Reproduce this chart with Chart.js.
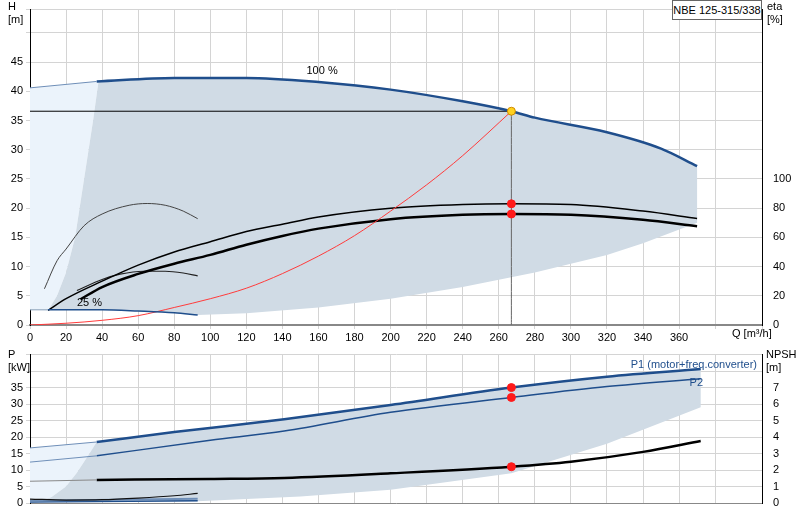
<!DOCTYPE html>
<html>
<head>
<meta charset="utf-8">
<script src="https://cdn.jsdelivr.net/npm/chart.js@4"></script>
<style>
  body { margin: 0; background: #fff; font-family: Arial, "Liberation Sans", sans-serif; }
  .box { position: absolute; }
  .lbl { position: absolute; font-size: 11px; color: #000; line-height: 13px; white-space: nowrap; }
</style>
</head>
<body>
<div class="box" style="left:0;top:0;width:800px;height:345px"><canvas id="top"></canvas></div>
<div class="box" style="left:0;top:345px;width:800px;height:175px"><canvas id="bottom"></canvas></div>
<div class="lbl" style="left:8px;top:0px">H<br>[m]</div>
<div class="lbl" style="left:767px;top:0px">eta<br>[%]</div>
<div class="lbl" style="left:672px;top:0px;width:88px;height:18px;border:1px solid #666;background:#fff;text-align:center;line-height:18px">NBE 125-315/338</div>
<div class="lbl" style="left:8px;top:348px">P<br>[kW]</div>
<div class="lbl" style="left:766px;top:348px">NPSH<br>[m]</div>
<script>
// Q [m3/h] grid
const qMax = 406;

// head curves, H [m]
const head100Q = [0, 37, 80, 120, 160, 200, 240, 267, 280, 320, 350, 370];
const head100H = [40.6, 41.7, 42.3, 42.3, 41.6, 40.3, 38.3, 36.6, 35.5, 33.0, 30.2, 27.2];
const head25Q = [0, 10, 40, 60, 80, 93];
const head25H = [2.6, 2.6, 2.6, 2.4, 2.1, 1.7];
const systemQ = [0, 20, 40, 60, 80, 100, 120, 140, 160, 180, 200, 220, 240, 267];
const systemH = [0, 0.3, 0.8, 1.6, 3.0, 4.5, 6.3, 8.8, 11.8, 15.3, 19.5, 24.0, 29.0, 36.6];
const dutyQ = 267, dutyH = 36.6;

// efficiency curves, eta [%]
const etaQ = [28, 40, 60, 80, 100, 120, 140, 160, 200, 240, 267, 300, 340, 370];
const etaPump = [17.6, 26, 35, 42, 48, 55, 61, 66, 72.5, 75.5, 76, 75.5, 72, 67.6];
const etaTotQ = [10, 20, 40, 60, 80, 100, 120, 140, 160, 200, 240, 267, 300, 340, 370];
const etaTot = [10, 18, 30, 41, 50, 57, 64, 69, 74, 80, 82.5, 83, 82.5, 78, 73];
const arcHighQ = [8, 15, 20, 30, 40, 55, 65, 75, 85, 93];
const arcHighH = [6.2, 11, 13, 17, 19, 20.5, 20.8, 20.5, 19.5, 18.2];
const arcLowQ = [26, 40, 50, 63, 75, 85, 93];
const arcLowH = [5.9, 7.8, 8.7, 9.2, 9.2, 8.9, 8.4];

// operating range shading (top)
const rangeEdgeQ = [38, 35, 30, 25, 20, 15, 10];
const rangeEdgeH = [41.7, 35, 25, 15, 9, 5, 2.5];
const rangeLowQ = [93, 120, 160, 200, 240, 280, 320, 340, 370];
const rangeLowH = [1.7, 2.0, 3.0, 4.5, 6.5, 9.0, 12.0, 14.0, 17.5];

// power curves, P [kW]
const p1Q = [0, 37, 80, 141, 200, 267, 320, 372];
const p1 = [16.7, 18.5, 21.5, 25.4, 29.7, 35.0, 38.3, 40.6];
const p2Q = [0, 37, 100, 141, 200, 267, 320, 372];
const p2 = [12.4, 14.3, 19.0, 21.8, 27.5, 32.0, 35.3, 37.7];
const npshQ = [0, 37, 100, 141, 200, 267, 300, 340, 372];
const npsh = [6.6, 7.0, 7.3, 7.6, 9.0, 11.0, 12.5, 15.5, 18.8]; // in kW scale units (1 m = 5)
const smallPQ = [0, 20, 40, 60, 80, 93];
const smallP = [1.2, 0.9, 1.0, 1.5, 2.2, 2.9];
const p25Q = [0, 93];
const p25a = [0.7, 1.3];
const p25b = [0.3, 0.7];
const pEdgeQ = [37, 33, 26, 20, 12, 5];
const pEdgeP = [18.5, 15, 9.2, 5, 1.8, 0.3];
const pLowQ = [372, 320, 267, 200, 150, 93, 20];
const pLowP = [29, 18, 9, 4, 2, 0.5, 0.3];

const pts = (xs, ys, k = 1) => xs.map((x, i) => ({ x, y: ys[i] * k }));

const line = (data, color, width, extra = {}) => ({
  data, showLine: true, borderColor: color, borderWidth: width, pointRadius: 0,
  tension: 0.4, cubicInterpolationMode: 'monotone', fill: false, order: 1, ...extra,
});
const area = (data, color) => ({
  data, showLine: true, borderWidth: 0, borderColor: 'transparent', backgroundColor: color,
  pointRadius: 0, fill: 'shape', tension: 0, order: 10,
});
const dot = (x, y, color, yAxisID = 'y') => ({
  data: [{ x, y }], showLine: false, pointRadius: 4, pointBackgroundColor: color,
  pointBorderColor: color === '#ffd21f' ? '#d08a00' : color, yAxisID, order: 0,
});

const h100 = pts(head100Q, head100H);
const mainTop = [
  ...h100.filter(p => p.x >= 37),
  ...pts(rangeLowQ, rangeLowH).reverse(),
  ...pts(head25Q, head25H).filter(p => p.x >= 10).reverse(),
  ...pts(rangeEdgeQ, rangeEdgeH).reverse(),
];
const lightTop = [
  ...h100.filter(p => p.x <= 37),
  ...pts(rangeEdgeQ, rangeEdgeH),
  { x: 0, y: 2.6 },
];

const gridColor = '#d4d4d4';
const font = { family: 'Arial, Liberation Sans', size: 11 };
const fixW = w => function (s) { s.width = w; };
const fixH = h => function (s) { s.height = h; };

const textPlugin = (items) => ({
  id: 'texts',
  afterDatasetsDraw(chart) {
    const c = chart.ctx, x = chart.scales.x, y = chart.scales.y;
    c.save();
    items.forEach(t => {
      c.font = '11px Arial, Liberation Sans';
      c.fillStyle = t.color || '#000';
      c.textAlign = t.align || 'left';
      const px = t.px != null ? t.px : x.getPixelForValue(t.x);
      const py = t.py != null ? t.py : y.getPixelForValue(t.y);
      c.fillText(t.text, px, py);
    });
    c.restore();
  },
});

new Chart(document.getElementById('top'), {
  type: 'scatter',
  data: {
    datasets: [
      area(mainTop, '#d0dbe5'),
      area(lightTop, '#ebf3fb'),
      line(h100.filter(p => p.x <= 37), '#6f8fb8', 1),
      line(h100.filter(p => p.x >= 37), '#1f4e8c', 2.5),
      line(pts(head25Q, head25H).filter(p => p.x <= 10), '#8aa0b8', 1),
      line(pts(head25Q, head25H).filter(p => p.x >= 10), '#1f4e8c', 1.5),
      line(pts(systemQ, systemH), '#ff3b3b', 1),
      line([{ x: 0, y: dutyH }, { x: dutyQ, y: dutyH }], '#000', 1, { tension: 0 }),
      line([{ x: dutyQ, y: dutyH }, { x: dutyQ, y: 0 }], '#666', 1, { tension: 0 }),
      line(pts(etaQ, etaPump), '#000', 2.5, { yAxisID: 'eta' }),
      line(pts(etaTotQ, etaTot), '#000', 1.5, { yAxisID: 'eta' }),
      line(pts(arcHighQ, arcHighH), '#444', 1),
      line(pts(arcLowQ, arcLowH), '#222', 1.2),
      dot(dutyQ, dutyH, '#ffd21f'),
      dot(dutyQ, 83, '#ff1a1a', 'eta'),
      dot(dutyQ, 76, '#ff1a1a', 'eta'),
    ],
  },
  options: {
    animation: false, responsive: true, maintainAspectRatio: false,
    layout: { padding: { top: 3, left: 0, right: 0 } },
    plugins: { legend: { display: false }, tooltip: { enabled: false } },
    scales: {
      x: {
        type: 'linear', min: 0, max: qMax, afterFit: fixH(20),
        ticks: { stepSize: 20, font, color: '#000', padding: 2,
          callback: v => (v <= 360 ? v : '') },
        grid: { color: gridColor, tickLength: 4 },
        border: { color: '#888', width: 2 },
      },
      y: {
        min: 0, max: 54, afterFit: fixW(30),
        ticks: { stepSize: 5, font, color: '#000', callback: v => (v <= 45 ? v : '') },
        grid: { color: gridColor, tickLength: 4 },
        border: { color: '#000' },
      },
      eta: {
        position: 'right', min: 0, max: 216, afterFit: fixW(38),
        ticks: { stepSize: 20, font, color: '#000', callback: v => (v <= 100 ? v : '') },
        grid: { display: false },
        border: { color: '#000' },
      },
    },
  },
  plugins: [textPlugin([
    { x: 162, y: 42.9, text: '100 %', align: 'center' },
    { x: 26, y: 3.3, text: '25 %' },
    { px: 732, py: 337, text: 'Q [m\u00b3/h]' },
  ])],
});

const p1p = pts(p1Q, p1);
const mainBot = [
  ...p1p.filter(p => p.x >= 37),
  ...pts(pLowQ, pLowP),
  ...pts(pEdgeQ, pEdgeP).reverse(),
];
const lightBot = [
  ...p1p.filter(p => p.x <= 37),
  ...pts(pEdgeQ, pEdgeP),
  { x: 0, y: 0 },
];

new Chart(document.getElementById('bottom'), {
  type: 'scatter',
  data: {
    datasets: [
      area(mainBot, '#d0dbe5'),
      area(lightBot, '#ebf3fb'),
      line(p1p.filter(p => p.x <= 37), '#6f8fb8', 1),
      line(p1p.filter(p => p.x >= 37), '#1f4e8c', 2.5),
      line(pts(p2Q, p2).filter(p => p.x <= 37), '#6f8fb8', 1),
      line(pts(p2Q, p2).filter(p => p.x >= 37), '#1f4e8c', 1.5),
      line(pts(npshQ, npsh).filter(p => p.x <= 37), '#888', 1),
      line(pts(npshQ, npsh).filter(p => p.x >= 37), '#000', 2.5),
      line(pts(smallPQ, smallP), '#111', 1.2),
      line(pts(p25Q, p25a), '#6f8fb8', 2, { tension: 0 }),
      line(pts(p25Q, p25b), '#1f4e8c', 1.5, { tension: 0 }),
      dot(dutyQ, 35, '#ff1a1a'),
      dot(dutyQ, 32, '#ff1a1a'),
      dot(dutyQ, 11, '#ff1a1a'),
    ],
  },
  options: {
    animation: false, responsive: true, maintainAspectRatio: false,
    layout: { padding: { top: 5 } },
    plugins: { legend: { display: false }, tooltip: { enabled: false } },
    scales: {
      x: {
        type: 'linear', min: 0, max: qMax, afterFit: fixH(17),
        ticks: { stepSize: 20, display: false },
        grid: { color: gridColor, tickLength: 0 },
        border: { color: '#888' },
      },
      y: {
        min: 0, max: 45, afterFit: fixW(30),
        ticks: { stepSize: 5, font, color: '#000', callback: v => (v <= 35 ? v : '') },
        grid: { color: gridColor, tickLength: 4 },
        border: { color: '#000' },
      },
      npsh: {
        position: 'right', min: 0, max: 9, afterFit: fixW(38),
        ticks: { stepSize: 1, font, color: '#000', callback: v => (v <= 7 ? v : '') },
        grid: { display: false },
        border: { color: '#000' },
      },
    },
  },
  plugins: [textPlugin([
    { px: 757, py: 23, text: 'P1 (motor+freq.converter)', align: 'right', color: '#1f4e8c' },
    { px: 703, py: 41, text: 'P2', align: 'right', color: '#1f4e8c' },
  ])],
});
</script>
</body>
</html>
